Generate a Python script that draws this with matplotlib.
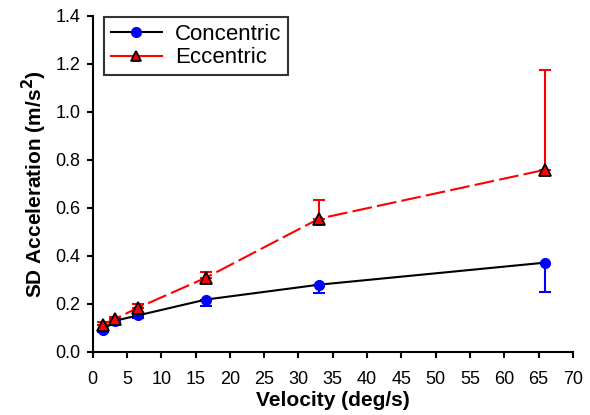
import numpy as np
import matplotlib
matplotlib.use("Agg")
import matplotlib.pyplot as plt
from matplotlib.lines import Line2D

plt.rcParams['font.family'] = ['Liberation Sans', 'DejaVu Sans']

# data
velocity = [1.5, 3.3, 6.6, 16.5, 33.0, 66.0]
conc_sd = [0.090, 0.130, 0.152, 0.218, 0.280, 0.372]
conc_err = [0.005, 0.006, 0.010, 0.028, 0.035, 0.123]   # drawn downward
ecc_sd = [0.114, 0.138, 0.184, 0.309, 0.555, 0.759]
ecc_err = [0.010, 0.006, 0.015, 0.025, 0.077, 0.414]    # drawn upward

fig = plt.figure(figsize=(5.9, 4.15), dpi=100)
ax = fig.add_axes([0.157, 0.152, 0.814, 0.810])

z = np.zeros(len(velocity))
ax.errorbar(velocity, conc_sd, yerr=[conc_err, z], fmt='none', ecolor='blue',
            elinewidth=1.5, capsize=4, capthick=1.5, zorder=2)
ax.errorbar(velocity, ecc_sd, yerr=[z, ecc_err], fmt='none', ecolor='red',
            elinewidth=1.5, capsize=4, capthick=1.5, zorder=2)

ax.plot(velocity, conc_sd, color='black', lw=1.5, marker='o', ms=7,
        mfc='blue', mec='blue', zorder=3)
ax.plot(velocity, ecc_sd, color='red', lw=1.5, dashes=(9.5, 2.5), marker='^', ms=8,
        mfc='red', mec='black', mew=1.3, zorder=4)

ax.set_xlim(0, 70)
ax.set_ylim(0, 1.4)
ax.set_xticks(np.arange(0, 71, 5))
ax.set_yticks(np.arange(0, 1.41, 0.2))
ax.set_yticklabels(['%.1f' % v for v in np.arange(0, 1.41, 0.2)])
ax.spines['top'].set_visible(False)
ax.spines['right'].set_visible(False)
ax.spines['left'].set_linewidth(1.5)
ax.spines['bottom'].set_linewidth(1.5)
ax.tick_params(direction='out', length=4, width=1.5, labelsize=13)
ax.tick_params(axis='x', pad=10)
ax.tick_params(axis='y', pad=5)

ax.set_xlabel('Velocity (deg/s)', fontsize=15, fontweight='bold', labelpad=2)
ax.set_ylabel('SD Acceleration (m/s$^\\mathbf{2}$)', fontsize=15, fontweight='bold', labelpad=4)

handles = [Line2D([], [], color='black', lw=1.5, marker='o', ms=7, mfc='blue', mec='blue'),
           Line2D([], [], color='red', lw=1.5, marker='^', ms=7, mfc='red', mec='black', mew=1.3)]
leg = ax.legend(handles, ['Concentric', 'Eccentric'], loc='upper left',
                bbox_to_anchor=(0.024, 0.995), fontsize=16, frameon=True, fancybox=False,
                handlelength=2.3, borderpad=0.3, labelspacing=0.1, handletextpad=0.6,
                borderaxespad=0)
leg.get_frame().set_edgecolor('black')
leg.get_frame().set_linewidth(1.5)

fig.savefig('out.png', dpi=100)
